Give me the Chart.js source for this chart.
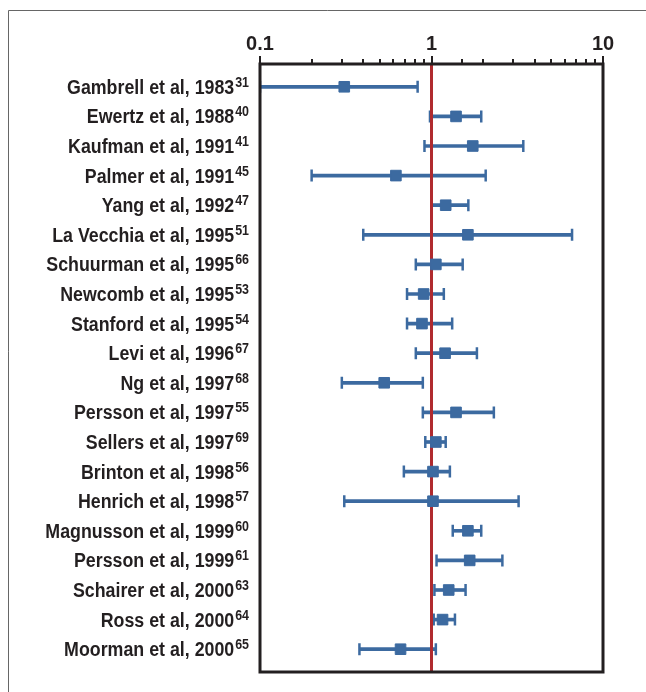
<!DOCTYPE html>
<html>
<head>
<meta charset="utf-8">
<script src="https://cdn.jsdelivr.net/npm/chart.js@4.4.1/dist/chart.umd.min.js"></script>
<style>
  html, body { margin: 0; padding: 0; background: #fff; }
  #wrap { width: 646px; height: 692px; }
</style>
</head>
<body>
<div id="wrap"><canvas id="forest" width="646" height="692"></canvas></div>
<script>
// study labels + reference numbers (drawn as superscripts)
const studies = [
  'Gambrell et al, 1983', 'Ewertz et al, 1988', 'Kaufman et al, 1991', 'Palmer et al, 1991',
  'Yang et al, 1992', 'La Vecchia et al, 1995', 'Schuurman et al, 1995', 'Newcomb et al, 1995',
  'Stanford et al, 1995', 'Levi et al, 1996', 'Ng et al, 1997', 'Persson et al, 1997',
  'Sellers et al, 1997', 'Brinton et al, 1998', 'Henrich et al, 1998', 'Magnusson et al, 1999',
  'Persson et al, 1999', 'Schairer et al, 2000', 'Ross et al, 2000', 'Moorman et al, 2000'
];
const refs = ['31', '40', '41', '45', '47', '51', '66', '53', '54', '67',
              '68', '55', '69', '56', '57', '60', '61', '63', '64', '65'];

// relative risk and 95% CI
const riskRatio = [0.31, 1.39, 1.74, 0.62, 1.21, 1.63, 1.06, 0.90, 0.88, 1.20,
                   0.53, 1.39, 1.06, 1.02, 1.02, 1.63, 1.67, 1.26, 1.16, 0.66];
const lowerCI   = [0.10, 0.98, 0.91, 0.20, 1.00, 0.40, 0.81, 0.72, 0.72, 0.81,
                   0.30, 0.89, 0.92, 0.69, 0.31, 1.33, 1.07, 1.04, 1.03, 0.38];
const upperCI   = [0.83, 1.95, 3.43, 2.07, 1.64, 6.60, 1.52, 1.18, 1.32, 1.84,
                   0.89, 2.31, 1.21, 1.28, 3.22, 1.95, 2.59, 1.58, 1.37, 1.06];

const xTickLabels = ['0.1', '1', '10'];
const nullValue = 1;

const BLUE = '#3c6aa0';
const RED = '#b02a2e';
const INK = '#231f20';
const BOX_PAD = 8;     // box extends a bit beyond the category band
const SQUEEZE = 0.89;  // fake a condensed face, no narrow font installed
const FONT = '"Liberation Sans", Arial, sans-serif';

const isMajor = v => Math.abs(Math.log10(v) - Math.round(Math.log10(v))) < 1e-6;

const capStyle = {
  type: 'line',
  indexAxis: 'y',
  showLine: false,
  pointStyle: 'line',
  pointRotation: 90,
  pointRadius: 6,
  pointBorderColor: BLUE,
  pointBorderWidth: 2.5
};

const forestPlugin = {
  id: 'forest',
  beforeDraw(chart) {
    const ctx = chart.ctx;
    ctx.save();
    ctx.fillStyle = '#fff';
    ctx.fillRect(0, 0, chart.width, chart.height);
    // outer figure frame (only top/left visible)
    ctx.strokeStyle = '#666';
    ctx.lineWidth = 1;
    ctx.beginPath();
    ctx.moveTo(8.5, chart.height);
    ctx.lineTo(8.5, 10.5);
    ctx.lineTo(chart.width, 10.5);
    ctx.stroke();
    ctx.restore();
  },
  afterDatasetDraw(chart, args) {
    // null line over the error bars, under the squares
    if (args.index !== 1) return;
    const { ctx, chartArea } = chart;
    const x = chart.scales.x.getPixelForValue(nullValue);
    ctx.save();
    ctx.strokeStyle = RED;
    ctx.lineWidth = 3;
    ctx.beginPath();
    ctx.moveTo(x, chartArea.top - BOX_PAD);
    ctx.lineTo(x, chartArea.bottom + BOX_PAD);
    ctx.stroke();
    ctx.restore();
  },
  afterDraw(chart) {
    const { ctx, chartArea } = chart;
    const xs = chart.scales.x, ys = chart.scales.y;
    const top = chartArea.top - BOX_PAD;
    ctx.save();

    // box
    ctx.strokeStyle = INK;
    ctx.lineWidth = 3;
    ctx.strokeRect(chartArea.left, top, chartArea.right - chartArea.left,
                   chartArea.bottom - chartArea.top + 2 * BOX_PAD);

    // tick marks pointing up from the top edge
    ctx.lineWidth = 2;
    xs.ticks.forEach(t => {
      const x = Math.round(xs.getPixelForValue(t.value));
      ctx.beginPath();
      ctx.moveTo(x, top);
      ctx.lineTo(x, top - (isMajor(t.value) ? 8 : 5));
      ctx.stroke();
    });

    // study labels with superscript refs
    ctx.fillStyle = INK;
    ctx.textAlign = 'right';
    ctx.textBaseline = 'alphabetic';
    const right = chartArea.left - 11;
    studies.forEach((name, i) => {
      const y = ys.getPixelForValue(i);
      ctx.save();
      ctx.translate(right, y);
      ctx.scale(SQUEEZE, 1);
      ctx.font = 'bold 14px ' + FONT;
      const supW = ctx.measureText(refs[i]).width;
      ctx.fillText(refs[i], 0, 0);
      ctx.font = 'bold 20px ' + FONT;
      ctx.fillText(name, -supW - 1, 7);
      ctx.restore();
    });
    ctx.restore();
  }
};

new Chart(document.getElementById('forest'), {
  type: 'bar',
  data: {
    labels: studies,
    datasets: [
      {
        type: 'line',
        indexAxis: 'y',
        data: riskRatio,
        showLine: false,
        pointStyle: 'rect',
        pointRadius: 7.5,
        pointBackgroundColor: BLUE,
        pointBorderColor: BLUE,
        pointBorderWidth: 1
      },
      Object.assign({ data: lowerCI }, capStyle),
      Object.assign({ data: upperCI }, capStyle),
      {
        type: 'bar',
        indexAxis: 'y',
        data: lowerCI.map((lo, i) => [lo, upperCI[i]]),
        backgroundColor: BLUE,
        borderWidth: 0,
        barThickness: 3
      }
    ]
  },
  options: {
    responsive: false,
    animation: false,
    indexAxis: 'y',
    devicePixelRatio: 1,
    layout: { padding: { top: 0, left: 0, right: 43, bottom: 28 } },
    plugins: { legend: { display: false }, tooltip: { enabled: false } },
    scales: {
      x: {
        type: 'logarithmic',
        position: 'top',
        min: 0.1,
        max: 10,
        grid: { display: false, drawTicks: false },
        border: { display: false },
        afterFit: s => { s.height = 72; },
        ticks: {
          autoSkip: false,
          maxRotation: 0,
          padding: 16,
          color: INK,
          font: { family: FONT, weight: 'bold', size: 20 },
          callback: v => {
            const s = String(+v.toPrecision(6));
            return xTickLabels.includes(s) ? s : '';
          }
        }
      },
      y: {
        type: 'category',
        offset: true,
        grid: { display: false },
        border: { display: false },
        ticks: { display: false },
        afterFit: s => { s.width = 260; }
      }
    }
  },
  plugins: [forestPlugin]
});
</script>
</body>
</html>
